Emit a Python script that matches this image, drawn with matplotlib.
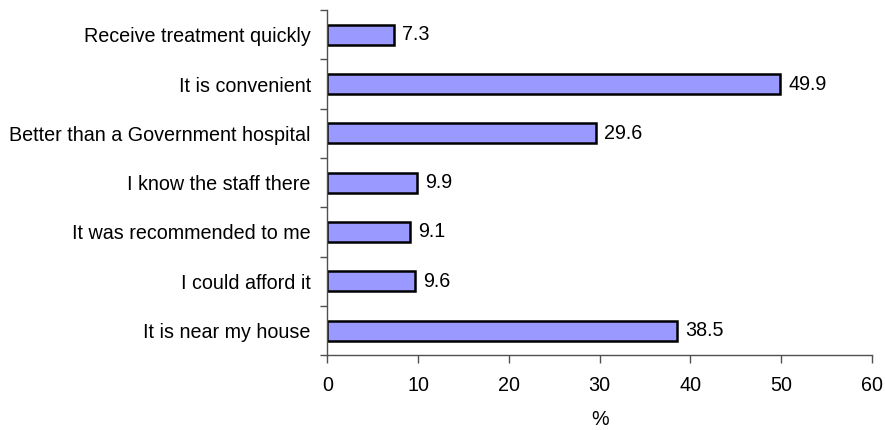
import matplotlib.pyplot as plt
import numpy as np

# survey responses, listed top to bottom
reasons = [
    "Receive treatment quickly",
    "It is convenient",
    "Better than a Government hospital",
    "I know the staff there",
    "It was recommended to me",
    "I could afford it",
    "It is near my house",
]
percent = [7.3, 49.9, 29.6, 9.9, 9.1, 9.6, 38.5]

xticks = [0, 10, 20, 30, 40, 50, 60]

plt.rcParams["font.family"] = ["Liberation Sans", "DejaVu Sans"]
fs = 14.2

fig = plt.figure(figsize=(8.85, 4.30), dpi=100)
ax = fig.add_axes([0.370, 0.1737, 0.6153, 0.803])

n = len(reasons)
ypos = np.arange(n)[::-1]

ax.barh(ypos, percent, height=0.4, color="#9999FF",
        edgecolor="black", linewidth=1.8)

for y, v in zip(ypos, percent):
    ax.text(v + 0.9, y, f"{v:.1f}", va="center", ha="left", fontsize=fs)

ax.set_xlim(0, 60)
ax.set_ylim(-0.5, n - 0.5)
ax.set_xticks(xticks)
ax.set_xticklabels([str(t) for t in xticks], fontsize=fs)
ax.set_yticks(ypos)
ax.set_yticklabels(reasons, fontsize=fs)
ax.set_yticks(np.arange(n + 1) - 0.5, minor=True)

ax.tick_params(axis="y", which="major", length=0, pad=12)
ax.tick_params(axis="y", which="minor", length=5, width=1, color="#505050",
               direction="out")
ax.tick_params(axis="x", length=6, width=1, color="#505050",
               direction="out", pad=9)

for side in ["top", "right"]:
    ax.spines[side].set_visible(False)
for side in ["left", "bottom"]:
    ax.spines[side].set_color("#505050")
    ax.spines[side].set_linewidth(1)

ax.set_xlabel("%", fontsize=fs, labelpad=11)

fig.savefig("out.png", dpi=100)
